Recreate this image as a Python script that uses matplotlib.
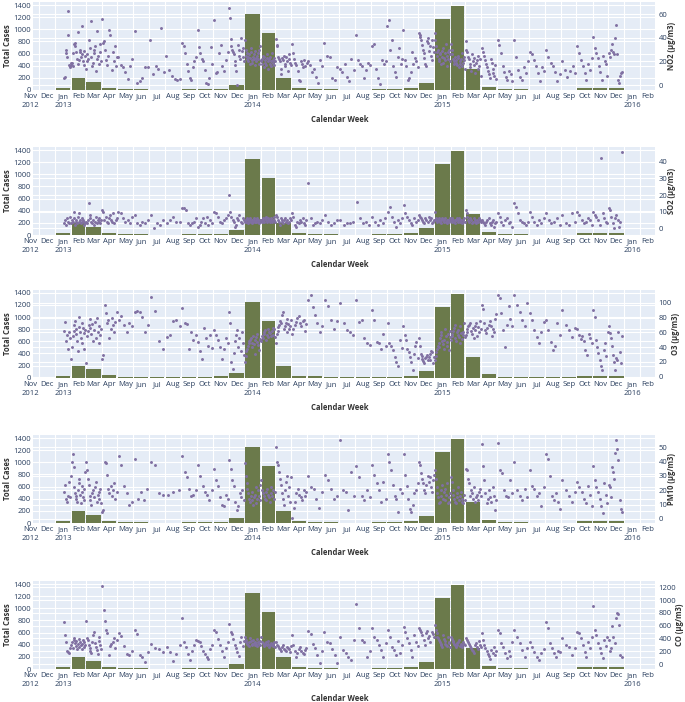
import numpy as np
import pandas as pd
import matplotlib
matplotlib.use("Agg")
import matplotlib.pyplot as plt
import matplotlib.dates as mdates
import matplotlib.transforms as mtransforms
from matplotlib.ticker import FixedLocator, FixedFormatter, NullFormatter

plt.rcParams['font.family'] = ['Open Sans', 'DejaVu Sans']

# monthly totals, Jan 2013 .. Dec 2015
months = pd.date_range('2013-01-01', '2015-12-01', freq='MS')
total_cases = [30, 200, 140, 38, 12, 10, 8, 7, 10, 18, 22, 85,
               1255, 940, 190, 35, 22, 10, 8, 8, 10, 15, 25, 110,
               1170, 1385, 345, 55, 15, 10, 8, 8, 8, 25, 28, 30]

# pollutant readings, one list per month (same months as above)
no2 = [
    [6, 7, 27, 30, 24, 42, 63, 17, 15, 19],
    [17, 19, 16, 27, 35, 33, 36, 28, 22, 45, 18, 21, 30, 28, 24, 26, 50, 20, 17, 29, 25],
    [14, 20, 26, 22, 38, 31, 24, 54, 16, 19, 30, 27, 33, 12, 22, 46, 25, 18, 35, 28, 20],
    [56, 36, 37, 30, 21, 17, 25, 47, 42, 13, 28, 20, 33, 16, 24],
    [24, 17, 15, 11, 5, 16, 22],
    [46, 2, 3, 6, 15, 15],
    [38, 9, 16, 14, 48, 11],
    [25, 13, 8, 5, 4, 5],
    [36, 33, 27, 18, 12, 6, 4, 15, 20, 24],
    [47, 32, 27, 22, 20, 13, 2, 1, 6, 32, 18],
    [55, 10, 11, 27, 34, 16, 12, 21, 28],
    [65, 57, 39, 33, 30, 28, 26, 20, 17, 12, 0, 34, 30, 25, 22, 40, 29, 31, 24, 20],
    [38, 30, 25, 27, 22, 24, 20, 26, 18, 23, 28, 31, 21, 19, 24, 22, 26, 29, 17, 23, 20, 25, 27, 22, 18, 30, 33, 21],
    [20, 22, 18, 25, 15, 24, 21, 19, 17, 26, 23, 20, 14, 22, 18, 24, 20, 16, 27, 21, 19, 23, 17, 20],
    [39, 34, 33, 24, 22, 20, 14, 9, 23, 21, 25, 18, 16, 24, 20, 12, 26, 22, 19, 17],
    [35, 27, 22, 19, 17, 12, 4, 3, 20, 18, 15, 21, 16, 19],
    [20, 17, 11, 14, 7, 2, 21, 16],
    [36, 25, 24, 6, 4, 15],
    [14, 11, 18, 7, 3, 22, 13],
    [42, 21, 18, 16, 6, 13, 19, 17],
    [33, 35, 14, 6, 1, 21, 18, 20],
    [50, 55, 30, 38, 16, 11, 7, 24, 31, 18, 22],
    [47, 21, 16, 4, 6, 11, 28, 18, 23, 20, 15],
    [44, 42, 41, 38, 34, 30, 27, 23, 18, 16, 37, 40, 36, 29, 33, 25, 21, 38, 32, 28],
    [44, 38, 33, 28, 25, 30, 22, 20, 27, 26, 18, 24, 29, 31, 19, 23, 27, 21, 35, 16, 25, 22, 28, 30, 20, 26],
    [35, 30, 26, 22, 20, 18, 24, 19, 21, 17, 25, 23, 15, 20, 18, 22, 27, 16, 19, 21, 24, 14],
    [37, 30, 28, 24, 22, 18, 15, 12, 26, 20, 23, 17, 10, 19, 21, 25, 14, 16, 22, 8],
    [31, 28, 25, 21, 18, 15, 12, 9, 6, 22, 19, 10, 14, 8, 17, 5],
    [38, 34, 27, 16, 11, 7, 4, 12, 9, 3],
    [38, 24, 13, 7, 4, 15, 10, 20],
    [28, 26, 21, 16, 10, 3, 15, 12],
    [30, 24, 19, 16, 11, 3, 9],
    [20, 13, 7, 12, 16, 10],
    [33, 27, 21, 16, 10, 4, 18, 13, 23],
    [41, 31, 27, 23, 16, 11, 4, 25, 20, 18, 8],
    [27, 24, 30, 35, 28, 26, 40, 51, 26, 4, 2, 8, 10, 11],
]

so2 = [
    [3, 5, 2, 6, 4, 3, 7],
    [3, 5, 4, 10, 6, 2, 4, 5, 3, 7, 4, 9, 5, 3, 4, 6, 5, 2, 4, 3],
    [4, 3, 5, 15, 8, 6, 4, 3, 5, 2, 4, 7, 3, 5, 4, 6, 3, 5],
    [11, 10, 5, 7, 4, 3, 6, 8, 5, 4, 9, 3, 5, 6],
    [10, 9, 6, 4, 5, 3, 7],
    [8, 3, 2, 4, 3, 5],
    [8, 0, 3, 2, 5],
    [3, 5, 7, 4, 4],
    [12, 12, 11, 3, 2, 3, 4, 6],
    [1, 2, 4, 6, 3, 7, 2, 5, 3],
    [10, 9, 7, 4, 3, 5, 6, 8],
    [20, 10, 7, 5, 4, 1, 2, 6, 5, 8, 4, 3, 6, 5],
    [4, 5, 4, 6, 3, 5, 4, 5, 6, 4, 5, 3, 4, 6, 5, 4, 5, 4, 6, 5, 4, 3, 5, 4],
    [5, 4, 6, 5, 4, 6, 5, 7, 4, 5, 6, 5, 4, 5, 6, 4, 5, 7, 5, 4],
    [8, 7, 5, 4, 2, 6, 5, 4, 3, 5, 6, 4, 5, 3, 4, 6, 5],
    [9, 7, 2, 1, 4, 3, 5, 4, 6, 3, 2, 5],
    [27, 6, 2, 3, 4, 3, 5],
    [8, 4, 2, 3, 5],
    [5, 2, 3, 3, 4],
    [16, 6, 3, 4, 2],
    [7, 4, 2, 5, 3, 6],
    [10, 13, 7, 4, 1, 5, 3, 6],
    [14, 9, 7, 5, 3, 2, 6, 4, 5],
    [8, 7, 6, 5, 4, 3, 6, 5, 4, 7, 5, 6, 3, 4, 5],
    [10, 6, 5, 4, 5, 6, 5, 4, 3, 5, 6, 5, 4, 5, 6, 4, 5, 3, 5, 4, 6, 5],
    [5, 4, 6, 5, 4, 5, 3, 5, 6, 4, 5, 6, 5, 4, 5, 3, 4, 5, 6, 4],
    [11, 9, 7, 5, 4, 6, 5, 3, 4, 6, 5, 4, 3, 5, 4, 6, 5, 4],
    [5, 4, 3, 2, 4, 5, 6, 3, 2, 4, 5, 1, 3, 4],
    [9, 7, 4, 2, 5, 6, 3, 4, 1],
    [15, 13, 9, 5, 4, 3, 2, 4],
    [10, 7, 4, 2, 5, 3, 6],
    [9, 5, 3, 4, 6, 2],
    [8, 3, 2, 9, 4],
    [10, 8, 5, 3, 4, 6, 5, 2],
    [10, 8, 7, 5, 2, 42, 9, 6, 4, 3],
    [12, 11, 7, 3, 0, 6, 8, 5, 1, 4, 46],
]

o3 = [
    [62, 74, 48, 56, 38, 60, 52],
    [24, 40, 55, 62, 70, 75, 58, 64, 48, 35, 81, 67, 60, 52, 45, 72, 66, 59, 38, 63],
    [18, 55, 62, 70, 78, 66, 58, 71, 48, 63, 74, 52, 80, 60, 69, 45, 57, 65],
    [24, 29, 97, 86, 73, 77, 52, 65, 80, 70, 60, 74, 88],
    [77, 82, 70, 61, 73, 68],
    [88, 89, 87, 81, 60, 70],
    [108, 89, 48, 38],
    [54, 56, 75, 77, 69],
    [93, 72, 71, 38, 60, 50, 56],
    [47, 35, 24, 66, 52, 42, 56, 39],
    [63, 56, 50, 40, 24, 38, 52, 45],
    [88, 72, 20, 11, 32, 48, 56, 63, 40, 52, 35, 60, 45, 29],
    [20, 28, 35, 38, 42, 45, 48, 50, 52, 46, 40, 55, 44, 30, 50, 53, 47, 58, 43, 36, 49, 51],
    [48, 55, 52, 60, 58, 63, 50, 57, 65, 53, 61, 59, 55, 62, 66, 56, 64, 54],
    [45, 58, 62, 67, 70, 75, 72, 83, 88, 65, 68, 73, 60, 78, 71, 64, 69, 76],
    [58, 65, 70, 74, 79, 82, 72, 68, 75, 77, 62, 71],
    [103, 110, 94, 83, 73, 61, 68],
    [103, 96, 77, 65, 75],
    [99, 72, 63, 61, 56],
    [104, 74, 77, 52, 45, 43],
    [90, 77, 47, 45, 38, 58, 41],
    [72, 45, 41, 36, 27, 20, 14, 49, 39],
    [68, 56, 50, 38, 34, 27, 20, 9, 31, 42, 47, 25],
    [52, 42, 31, 28, 24, 21, 18, 25, 27, 29, 22, 26, 30, 23, 35, 33, 19, 27],
    [22, 28, 33, 37, 41, 45, 40, 52, 56, 61, 48, 44, 38, 50, 65, 55, 47, 42, 58, 36, 62, 53],
    [50, 55, 58, 62, 66, 70, 52, 48, 60, 57, 63, 54, 45, 68, 59, 51, 61, 56, 72, 53],
    [56, 60, 65, 68, 70, 73, 62, 58, 66, 52, 69, 63, 72, 55, 67, 61, 75, 64],
    [97, 92, 72, 63, 59, 66, 70, 75, 68, 55, 64, 60, 78, 85],
    [110, 106, 86, 63, 40, 70, 95, 78, 68],
    [110, 97, 88, 77, 68, 100],
    [86, 77, 63, 54, 45, 60, 74],
    [77, 63, 47, 36, 41, 73, 56],
    [90, 70, 63, 54, 66],
    [65, 56, 51, 55, 48, 36, 29, 58, 52, 45],
    [90, 81, 50, 40, 32, 23, 14, 9, 36, 45, 28, 60],
    [68, 59, 52, 41, 29, 20, 9, 25, 22, 60, 33, 18, 55],
]

pm10 = [
    [19, 24, 14, 12, 16, 26, 15],
    [30, 40, 45, 36, 22, 18, 14, 16, 12, 20, 25, 28, 17, 11, 19, 23, 15, 13, 21, 33],
    [40, 34, 28, 24, 16, 13, 10, 18, 20, 15, 22, 26, 12, 17, 14, 19, 21, 11],
    [5, 6, 40, 39, 31, 21, 18, 23, 16, 20, 25, 14, 19],
    [44, 38, 23, 18, 10, 12],
    [42, 14, 19, 13, 21],
    [40, 38, 18, 17],
    [17, 19, 20],
    [44, 33, 29, 21, 16, 17, 20],
    [38, 30, 23, 19, 17, 13, 20],
    [35, 27, 23, 15, 10, 9, 17, 14],
    [41, 35, 27, 23, 12, 6, 9, 18, 15, 20, 13],
    [39, 30, 25, 21, 18, 14, 12, 16, 19, 13, 10, 15, 17, 22, 11, 14, 20, 16, 13, 24],
    [27, 20, 18, 16, 14, 13, 19, 21, 17, 15, 12, 22, 18, 16, 20, 14, 19],
    [50, 40, 38, 33, 28, 24, 18, 14, 10, 20, 26, 30, 16, 22, 12, 29],
    [1, 8, 12, 18, 21, 17, 15, 13, 20, 16, 19],
    [30, 22, 21, 14, 8, 19],
    [31, 27, 21, 14, 16],
    [55, 20, 19, 6, 33, 16],
    [37, 29, 16, 13, 20, 15],
    [38, 31, 25, 20, 12, 26, 14],
    [45, 40, 34, 24, 16, 14, 5, 21, 18],
    [45, 31, 23, 14, 7, 5, 10, 18, 20, 25],
    [40, 38, 32, 28, 25, 20, 18, 24, 30, 26, 29, 22, 19, 27, 31],
    [34, 28, 22, 18, 15, 11, 12, 16, 20, 24, 14, 19, 21, 13, 17, 25, 11, 15, 12, 18],
    [29, 26, 20, 17, 14, 12, 11, 15, 18, 22, 13, 16, 19, 12, 14, 11, 17, 13],
    [35, 34, 28, 25, 16, 20, 18, 14, 22, 12, 15, 17, 13, 19, 21, 16],
    [52, 37, 27, 18, 11, 14, 20, 15, 12, 22, 16, 6, 13],
    [53, 34, 32, 20, 16, 15, 27, 18],
    [40, 20, 16, 13, 21, 15],
    [34, 23, 21, 16, 18, 9, 22],
    [45, 42, 30, 16, 13, 18, 12, 7],
    [27, 20, 16, 12, 19],
    [26, 22, 19, 14, 11, 23, 17, 9],
    [37, 27, 22, 19, 14, 9, 4, 25, 17, 11],
    [24, 22, 15, 36, 33, 28, 46, 55, 49, 41, 13, 7, 5],
]

co = [
    [658, 458, 344, 201, 182, 172, 250],
    [300, 350, 250, 400, 380, 330, 280, 360, 240, 310, 390, 270, 345, 290, 320, 230, 370, 260, 340, 300],
    [680, 400, 380, 300, 250, 200, 180, 350, 450, 500, 330, 270, 220, 160, 420, 360, 290, 240],
    [1218, 847, 667, 534, 486, 135, 280, 315, 350, 400, 250, 380],
    [486, 440, 287, 163, 135, 200],
    [534, 477, 135, 106, 30, 190],
    [315, 250, 230, 182],
    [260, 182, 40, 155, 300],
    [715, 344, 268, 163, 60, 210, 300, 380],
    [363, 344, 277, 201, 154, 106, 78, 230, 300],
    [534, 505, 392, 296, 201, 106, 250, 340],
    [620, 505, 467, 392, 296, 250, 182, 125, 340, 420, 280, 360],
    [430, 380, 350, 320, 300, 280, 340, 400, 360, 310, 290, 370, 330, 300, 350, 320, 390, 280, 340, 310, 300, 360],
    [420, 350, 330, 300, 280, 310, 340, 290, 320, 360, 270, 300, 330, 290, 310, 280, 350, 260],
    [340, 300, 280, 250, 230, 210, 260, 290, 240, 220, 200, 270, 250, 230, 190, 280],
    [450, 296, 201, 106, 180, 230, 260, 210, 170, 150, 220, 250],
    [524, 467, 315, 250, 135, 12, 200],
    [505, 344, 325, 230, 135, 12],
    [428, 220, 167, 115, 63, 375],
    [934, 558, 375, 350, 115, 200],
    [558, 428, 375, 297, 219, 115, 330],
    [532, 428, 271, 219, 140, 360, 180, 300],
    [584, 506, 402, 323, 219, 115, 450, 350, 280],
    [558, 532, 506, 454, 375, 297, 480, 520, 400, 440, 350, 500, 470, 420],
    [610, 530, 480, 430, 400, 370, 340, 310, 290, 270, 450, 390, 360, 320, 300, 280, 420, 350, 330, 260],
    [420, 390, 360, 340, 310, 290, 270, 300, 330, 350, 380, 280, 320, 300, 260, 340, 310, 290],
    [400, 370, 340, 310, 280, 250, 220, 200, 180, 300, 330, 260, 230, 360, 290, 270],
    [480, 370, 300, 250, 200, 160, 120, 80, 220, 180, 260, 140, 210],
    [532, 480, 323, 271, 167, 90, 200, 130, 350],
    [532, 428, 323, 219, 115, 250],
    [350, 271, 193, 115, 63, 170, 230],
    [663, 558, 323, 245, 167, 115, 210, 190],
    [400, 297, 271, 140, 250],
    [506, 480, 402, 297, 193, 115, 350, 250, 420],
    [908, 532, 454, 323, 245, 167, 90, 380, 280, 420],
    [380, 200, 250, 600, 428, 323, 715, 793, 780, 610, 140, 115],
]

panels = [
    ("NO2 (\u00b5g/m3)", no2, (-4.2, 70.3), [0, 20, 40, 60]),
    ("SO2 (\u00b5g/m3)", so2, (-4.0, 48.8), [0, 10, 20, 30, 40]),
    ("O3 (\u00b5g/m3)", o3, (-1.4, 117.6), [0, 20, 40, 60, 80, 100]),
    ("PM10 (\u00b5g/m3)", pm10, (-2.8, 58.6), [0, 10, 20, 30, 40, 50]),
    ("CO (\u00b5g/m3)", co, (-78, 1299), [0, 200, 400, 600, 800, 1000, 1200]),
]
right_title_x = [672, 672, 676, 672, 679]


def month_dates(vals, start, i):
    # spread the readings of one month across its days
    ndays = start.days_in_month
    lo, hi = 0, ndays
    if i == 0:
        lo = 17
    if i == len(months) - 1:
        hi = 27
    n = len(vals)
    offs = lo + (np.arange(n) + 0.5) * (hi - lo) / n
    return start + pd.to_timedelta(offs, unit='D')


W, H = 685, 702
fig = plt.figure(figsize=(W / 100, H / 100), dpi=100)
bg = '#E5ECF6'
tc = '#2a3f5f'
bar_col = '#6b7a4b'
pt_col = '#8070a2'
fs = 5.5

x0, x1 = pd.Timestamp('2012-11-20'), pd.Timestamp('2016-02-29')
bar_x = [m + pd.Timedelta(days=m.days_in_month / 2) for m in months]
bar_w = [m.days_in_month * 0.9 for m in months]

tick_months = pd.date_range('2012-12-01', '2016-02-01', freq='MS')
mids = [mdates.date2num(m + pd.Timedelta(days=m.days_in_month / 2)) for m in tick_months]
labs = [m.strftime('%b') + ('\n' + str(m.year) if m.month == 1 else '') for m in tick_months]

bottoms = [90, 235, 377.7, 523, 669]
ph = 88
left_px, right_px = 33, 655
ylim_left = (0, 1450)

for (name, data, rr, rticks), b, rx in zip(panels, bottoms, right_title_x):
    ax = fig.add_axes([left_px / W, 1 - b / H, (right_px - left_px) / W, ph / H])
    ax.set_facecolor(bg)
    for s in ax.spines.values():
        s.set_visible(False)
    ax.set_xlim(x0, x1)
    ax.set_ylim(*ylim_left)
    ax.set_yticks(range(0, 1401, 200))
    ax.set_axisbelow(True)
    ax.grid(True, which='major', color='white', lw=0.8)

    # gridlines of the right axis, drawn under the bars
    for t in rticks:
        yl = (t - rr[0]) / (rr[1] - rr[0]) * (ylim_left[1] - ylim_left[0])
        ax.axhline(yl, color='white', lw=0.8, zorder=0.5)

    ax.bar(bar_x, total_cases, width=bar_w, color=bar_col, zorder=2)

    ax.xaxis.set_major_locator(mdates.MonthLocator())
    ax.xaxis.set_major_formatter(NullFormatter())
    ax.xaxis.set_minor_locator(FixedLocator(mids))
    ax.xaxis.set_minor_formatter(FixedFormatter(labs))
    ax.tick_params(axis='x', which='both', length=0, pad=2.2, labelsize=fs, colors=tc)
    ax.tick_params(axis='y', length=0, pad=1.5, labelsize=fs, colors=tc)
    for lab in ax.get_xticklabels(minor=True):
        lab.set_linespacing(1.35)

    trans = mtransforms.blended_transform_factory(ax.transData, ax.transAxes)
    ax.annotate('Nov\n2012', xy=(mdates.date2num(pd.Timestamp('2012-11-15')), 0),
                xycoords=trans, xytext=(0, -2.2), textcoords='offset points',
                ha='center', va='top', fontsize=fs, color=tc,
                linespacing=1.35, annotation_clip=False)

    ax2 = ax.twinx()
    for s in ax2.spines.values():
        s.set_visible(False)
    for i, (m, vals) in enumerate(zip(months, data)):
        ax2.scatter(month_dates(vals, m, i), vals, s=4.5, color=pt_col,
                    linewidths=0, zorder=3)
    ax2.set_ylim(*rr)
    ax2.set_yticks(rticks)
    ax2.tick_params(axis='y', length=0, pad=2.5, labelsize=fs, colors=tc)
    ax2.set_xlim(x0, x1)

    yc = 1 - (b - ph / 2) / H
    fig.text(7.5 / W, yc, 'Total Cases', rotation=90, ha='center', va='center',
             fontsize=fs, fontweight='bold', color='#333333')
    fig.text(rx / W, yc, name, rotation=90, ha='center', va='center',
             fontsize=fs, fontweight='bold', color='#333333')
    fig.text(340 / W, 1 - (b + 29.5) / H, 'Calendar Week', ha='center', va='center',
             fontsize=fs, fontweight='bold', color='#333333')

fig.savefig('out.png', dpi=100)
